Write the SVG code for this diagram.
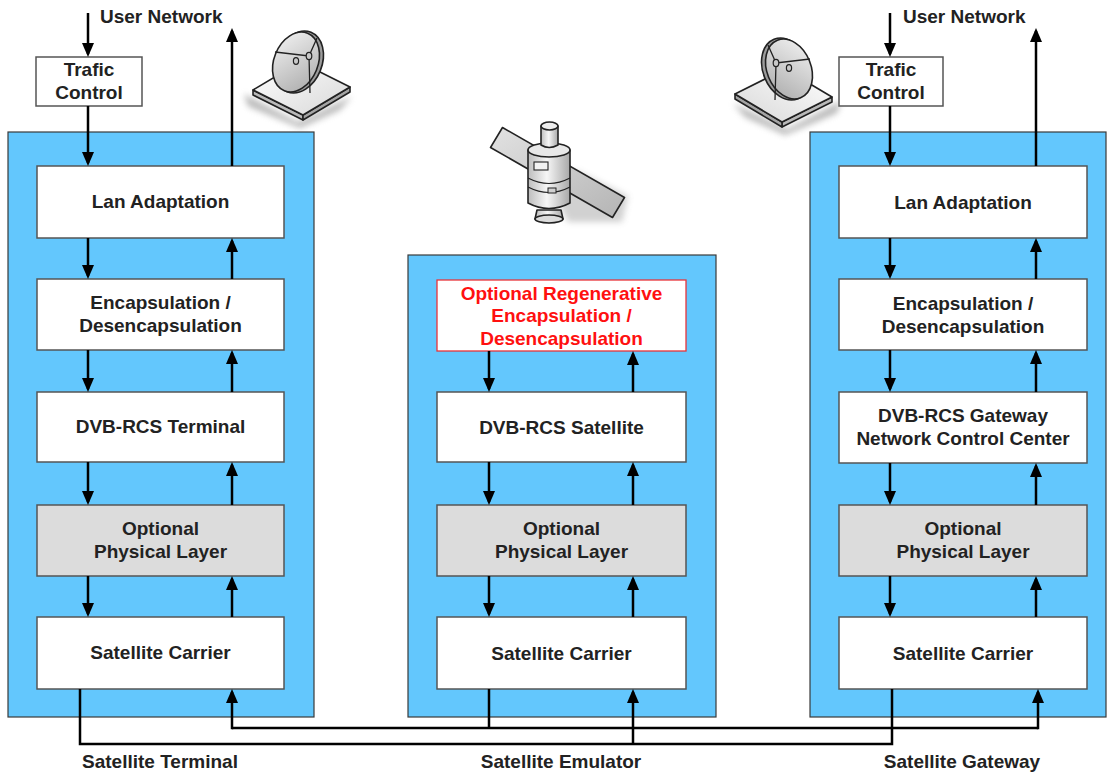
<svg xmlns="http://www.w3.org/2000/svg" width="1110" height="773" viewBox="0 0 1110 773">
  <style>
    .panel { fill: #63C7FD; stroke: #3a3a3a; stroke-width: 1.2; }
    .box { fill: #ffffff; stroke: #555555; stroke-width: 1.5; }
    .gray { fill: #DCDCDC; stroke: #555555; stroke-width: 1.5; }
    .redbox { fill: #ffffff; stroke: #E8333A; stroke-width: 1.3; }
    .lbl { font-family: "Liberation Sans", Arial, sans-serif; font-weight: bold; font-size: 19px; fill: #222222; text-anchor: middle; }
    .red { fill: #FF1010; }
    .cap { font-family: "Liberation Sans", Arial, sans-serif; font-weight: bold; font-size: 19px; fill: #222222; }
    .wire { fill: none; stroke: #000000; stroke-width: 2.5; }
    .arr { fill: none; stroke: #000000; stroke-width: 2.5; marker-end: url(#ah); }
    .ol { stroke: #222222; stroke-width: 1.6; stroke-linejoin: round; }
  </style>
  <defs>
    <marker id="ah" viewBox="0 0 14 12" refX="11" refY="6" markerWidth="14" markerHeight="12" markerUnits="userSpaceOnUse" orient="auto">
      <path d="M0,0 L14,6 L0,12 z" fill="#000000"/>
    </marker>
    <linearGradient id="dishG" x1="0" y1="0" x2="1" y2="1">
      <stop offset="0" stop-color="#f4f4f4"/>
      <stop offset="1" stop-color="#a9a9a9"/>
    </linearGradient>
    <linearGradient id="plateG" x1="0" y1="0" x2="1" y2="1">
      <stop offset="0" stop-color="#ffffff"/>
      <stop offset="1" stop-color="#d8d8d8"/>
    </linearGradient>
    <linearGradient id="cylG" x1="0" y1="0" x2="1" y2="0">
      <stop offset="0" stop-color="#bdbdbd"/>
      <stop offset="0.45" stop-color="#f6f6f6"/>
      <stop offset="1" stop-color="#a8a8a8"/>
    </linearGradient>
    <linearGradient id="panelG" x1="0" y1="0" x2="1" y2="1">
      <stop offset="0" stop-color="#e2e2e2"/>
      <stop offset="1" stop-color="#b4b4b4"/>
    </linearGradient>
    <filter id="soft" x="-30%" y="-30%" width="160%" height="160%">
      <feGaussianBlur stdDeviation="3"/>
    </filter>
    <!-- dish antenna on its base plate -->
    <g id="antenna">
      <path d="M244,94 L298,122 L352,96 L340,110 L300,128 L248,106 z" fill="#8a8a8a" opacity="0.6" filter="url(#soft)"/>
      <path d="M253,90 L303,115 L303,120 L253,95 z" fill="#b9b9b9" class="ol"/>
      <path d="M303,115 L350,87 L350,92 L303,120 z" fill="#a4a4a4" class="ol"/>
      <path d="M253,90 L300,62 L350,87 L303,115 z" fill="url(#plateG)" class="ol"/>
      <ellipse cx="299" cy="62" rx="23" ry="32" transform="rotate(22 299 62)" fill="#9c9c9c" class="ol"/>
      <ellipse cx="296" cy="62" rx="22" ry="31" transform="rotate(22 296 62)" fill="url(#dishG)" class="ol"/>
      <path d="M275,52 L309,56 L317,38 M309,56 L310,93" fill="none" stroke="#222" stroke-width="1.3"/>
      <ellipse cx="296" cy="61" rx="2.6" ry="3.4" fill="#c8c8c8" stroke="#222" stroke-width="1.2"/>
      <ellipse cx="309" cy="56" rx="2.8" ry="3.6" fill="#c8c8c8" stroke="#222" stroke-width="1.2"/>
    </g>
  </defs>

  <rect x="0" y="0" width="1110" height="773" fill="#ffffff"/>

  <!-- ground station dishes -->
  <use href="#antenna"/>
  <use href="#antenna" transform="translate(1085,7) scale(-1,1)"/>

  <!-- satellite -->
  <g id="satellite">
    <path d="M575,170 L628,196 L622,222 L568,222 L560,206 z" fill="#9a9a9a" opacity="0.45" filter="url(#soft)"/>
    <polygon points="502.5,127.5 624.5,197.5 612.5,217.5 490.5,147.5" fill="url(#panelG)" class="ol"/>
    <path d="M537,210 L535,219 Q549,226 563,219 L561,210 z" fill="url(#cylG)" class="ol"/>
    <ellipse cx="549" cy="219" rx="14" ry="4" fill="#dcdcdc" class="ol"/>
    <path d="M528,150 L528,203 Q549,214 570,203 L570,150 z" fill="url(#cylG)" class="ol"/>
    <path d="M528,178 Q549,189 570,178 M528,187 Q549,198 570,187" fill="none" stroke="#222" stroke-width="1.2"/>
    <ellipse cx="549" cy="150" rx="21" ry="7" fill="#e8e8e8" class="ol"/>
    <path d="M541,126 L541,145 Q549,150 558,145 L558,126 z" fill="url(#cylG)" class="ol"/>
    <ellipse cx="549.5" cy="126" rx="8.5" ry="4" fill="#eeeeee" class="ol"/>
    <rect x="534" y="162" width="14" height="8" fill="#f2f2f2" stroke="#222" stroke-width="1.1"/>
    <rect x="548" y="188" width="8" height="5" fill="#d0d0d0" stroke="#222" stroke-width="1"/>
  </g>

  <!-- Satellite Terminal -->
  <g id="terminal">
    <rect class="panel" x="8" y="132" width="306" height="585"/>
    <rect class="box" x="37" y="166" width="247" height="72"/>
    <text class="lbl" x="160.5" y="208">Lan Adaptation</text>
    <rect class="box" x="37" y="279" width="247" height="71"/>
    <text class="lbl" x="160.5" y="309">Encapsulation /</text>
    <text class="lbl" x="160.5" y="332">Desencapsulation</text>
    <rect class="box" x="37" y="392" width="247" height="70"/>
    <text class="lbl" x="160.5" y="433">DVB-RCS Terminal</text>
    <rect class="gray" x="37" y="505" width="247" height="71"/>
    <text class="lbl" x="160.5" y="535">Optional</text>
    <text class="lbl" x="160.5" y="558">Physical Layer</text>
    <rect class="box" x="37" y="617" width="247" height="72"/>
    <text class="lbl" x="160.5" y="659">Satellite Carrier</text>
  </g>

  <!-- Satellite Emulator -->
  <g id="emulator">
    <rect class="panel" x="408" y="255" width="308" height="462"/>
    <rect class="redbox" x="437" y="280" width="249" height="71"/>
    <text class="lbl red" x="561.5" y="300">Optional Regenerative</text>
    <text class="lbl red" x="561.5" y="322">Encapsulation /</text>
    <text class="lbl red" x="561.5" y="345">Desencapsulation</text>
    <rect class="box" x="437" y="392" width="249" height="70"/>
    <text class="lbl" x="561.5" y="434">DVB-RCS Satellite</text>
    <rect class="gray" x="437" y="505" width="249" height="71"/>
    <text class="lbl" x="561.5" y="535">Optional</text>
    <text class="lbl" x="561.5" y="558">Physical Layer</text>
    <rect class="box" x="437" y="617" width="249" height="72"/>
    <text class="lbl" x="561.5" y="660">Satellite Carrier</text>
  </g>

  <!-- Satellite Gateway -->
  <g id="gateway">
    <rect class="panel" x="810" y="132" width="296" height="585"/>
    <rect class="box" x="839" y="166" width="248" height="72"/>
    <text class="lbl" x="963" y="209">Lan Adaptation</text>
    <rect class="box" x="839" y="279" width="248" height="71"/>
    <text class="lbl" x="963" y="310">Encapsulation /</text>
    <text class="lbl" x="963" y="333">Desencapsulation</text>
    <rect class="box" x="839" y="392" width="248" height="71"/>
    <text class="lbl" x="963" y="422">DVB-RCS Gateway</text>
    <text class="lbl" x="963" y="445">Network Control Center</text>
    <rect class="gray" x="839" y="505" width="248" height="71"/>
    <text class="lbl" x="963" y="535">Optional</text>
    <text class="lbl" x="963" y="558">Physical Layer</text>
    <rect class="box" x="839" y="617" width="248" height="72"/>
    <text class="lbl" x="963" y="660">Satellite Carrier</text>
  </g>

  <!-- traffic shapers in front of the user networks -->
  <g id="trafic-left">
    <rect class="box" x="36" y="57" width="106" height="49"/>
    <text class="lbl" x="89" y="76">Trafic</text>
    <text class="lbl" x="89" y="99">Control</text>
  </g>
  <g id="trafic-right">
    <rect class="box" x="839" y="57" width="104" height="49"/>
    <text class="lbl" x="891" y="76">Trafic</text>
    <text class="lbl" x="891" y="99">Control</text>
  </g>

  <!-- captions -->
  <g id="captions">
    <text class="cap" x="100" y="23">User Network</text>
    <text class="cap" x="903" y="23">User Network</text>
    <text class="lbl" x="160" y="768">Satellite Terminal</text>
    <text class="lbl" x="561" y="768">Satellite Emulator</text>
    <text class="lbl" x="962" y="768">Satellite Gateway</text>
  </g>

  <g id="connectors">
    <!-- terminal stack -->
    <line class="arr" x1="88" y1="13" x2="88" y2="54"/>
    <line class="arr" x1="88" y1="106" x2="88" y2="163"/>
    <line class="arr" x1="232" y1="166" x2="232" y2="31"/>
    <line class="arr" x1="88" y1="238" x2="88" y2="276"/>
    <line class="arr" x1="232" y1="279" x2="232" y2="241"/>
    <line class="arr" x1="88" y1="350" x2="88" y2="389"/>
    <line class="arr" x1="232" y1="392" x2="232" y2="353"/>
    <line class="arr" x1="88" y1="462" x2="88" y2="502"/>
    <line class="arr" x1="232" y1="505" x2="232" y2="465"/>
    <line class="arr" x1="88" y1="576" x2="88" y2="614"/>
    <line class="arr" x1="232" y1="617" x2="232" y2="579"/>

    <!-- emulator stack -->
    <line class="arr" x1="489" y1="351" x2="489" y2="389"/>
    <line class="arr" x1="633" y1="392" x2="633" y2="354"/>
    <line class="arr" x1="489" y1="462" x2="489" y2="502"/>
    <line class="arr" x1="633" y1="505" x2="633" y2="465"/>
    <line class="arr" x1="489" y1="576" x2="489" y2="614"/>
    <line class="arr" x1="633" y1="617" x2="633" y2="579"/>

    <!-- gateway stack -->
    <line class="arr" x1="890" y1="13" x2="890" y2="54"/>
    <line class="arr" x1="890" y1="106" x2="890" y2="163"/>
    <line class="arr" x1="1036" y1="166" x2="1036" y2="31"/>
    <line class="arr" x1="890" y1="238" x2="890" y2="276"/>
    <line class="arr" x1="1036" y1="279" x2="1036" y2="241"/>
    <line class="arr" x1="890" y1="350" x2="890" y2="389"/>
    <line class="arr" x1="1036" y1="392" x2="1036" y2="353"/>
    <line class="arr" x1="890" y1="463" x2="890" y2="502"/>
    <line class="arr" x1="1036" y1="505" x2="1036" y2="466"/>
    <line class="arr" x1="890" y1="576" x2="890" y2="614"/>
    <line class="arr" x1="1036" y1="617" x2="1036" y2="579"/>

    <!-- satellite links -->
    <path class="wire" d="M80,689 V744 H892 V689"/>
    <line class="arr" x1="633" y1="744" x2="633" y2="692"/>
    <path class="wire" d="M489,689 V728"/>
    <path class="wire" d="M232,728 H1038"/>
    <line class="arr" x1="232" y1="729.25" x2="232" y2="692"/>
    <line class="arr" x1="1038" y1="729.25" x2="1038" y2="692"/>
  </g>
</svg>
